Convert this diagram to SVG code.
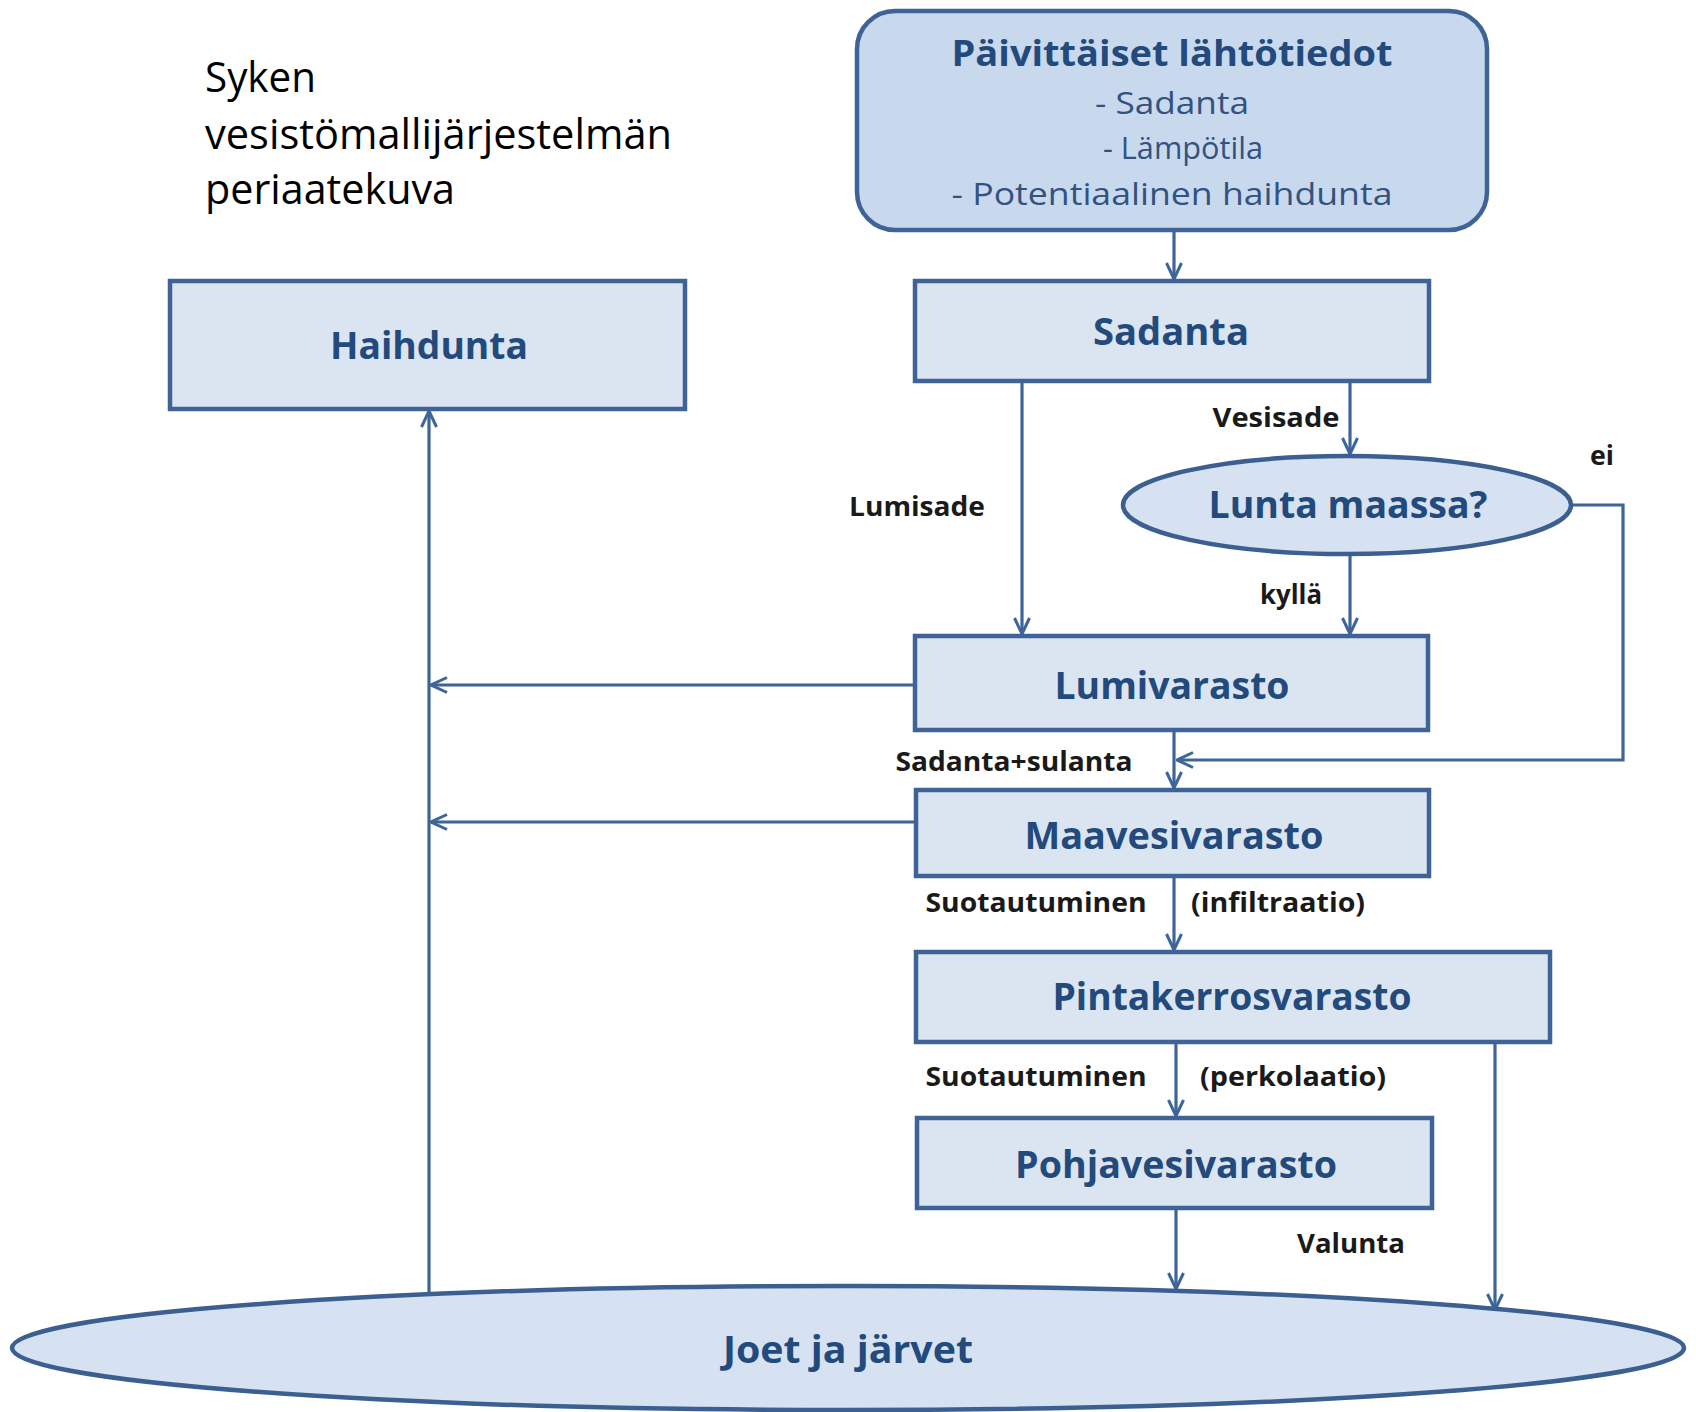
<svg xmlns="http://www.w3.org/2000/svg" width="1696" height="1412" viewBox="0 0 1696 1412">
<style>
.box{fill:#DBE5F1;stroke:#3F6396;stroke-width:4.5}
.top{fill:#C8D9EE;stroke:#3F6396;stroke-width:4.5}
.ell{fill:#D6E2F2;stroke:#3B5F91;stroke-width:4.5}
.t{font-family:"Open Sans","Liberation Sans",sans-serif;font-weight:bold;fill:#234A7C;text-anchor:middle}
.s{font-family:"Open Sans","Liberation Sans",sans-serif;fill:#33527F;text-anchor:middle}
.l{font-family:"Open Sans","Liberation Sans",sans-serif;font-weight:bold;fill:#1a1a1a;text-anchor:middle;font-size:26px}
.ttl{font-family:"Open Sans","Liberation Sans",sans-serif;fill:#000;font-size:42px}
.c{fill:none;stroke:#3E6598;stroke-width:3.2}
</style>
<defs>
<marker id="ah" viewBox="0 0 18 18" refX="17" refY="9" markerWidth="18" markerHeight="18" markerUnits="userSpaceOnUse" orient="auto">
<path d="M1,1.5 L17,9 L1,16.5" fill="none" stroke="#3E6598" stroke-width="3"/>
</marker>
</defs>
<rect width="1696" height="1412" fill="#fff"/>

<g id="title">
<text class="ttl" x="205" y="92" textLength="111" lengthAdjust="spacingAndGlyphs">Syken</text>
<text class="ttl" x="205" y="149" textLength="467" lengthAdjust="spacingAndGlyphs">vesistömallijärjestelmän</text>
<text class="ttl" x="205" y="204" textLength="250" lengthAdjust="spacingAndGlyphs">periaatekuva</text>
</g>

<g id="connectors">
<line class="c" x1="1174" y1="231" x2="1174" y2="279" marker-end="url(#ah)"/>
<line class="c" x1="1022" y1="382" x2="1022" y2="634" marker-end="url(#ah)"/>
<line class="c" x1="1350" y1="382" x2="1350" y2="454" marker-end="url(#ah)"/>
<line class="c" x1="1350" y1="555" x2="1350" y2="634" marker-end="url(#ah)"/>
<polyline class="c" points="1571,505 1623,505 1623,760 1177,760" marker-end="url(#ah)"/>
<line class="c" x1="1174" y1="731" x2="1174" y2="788" marker-end="url(#ah)"/>
<line class="c" x1="914" y1="685" x2="431" y2="685" marker-end="url(#ah)"/>
<line class="c" x1="915" y1="822" x2="431" y2="822" marker-end="url(#ah)"/>
<line class="c" x1="429" y1="1294" x2="429" y2="411" marker-end="url(#ah)"/>
<line class="c" x1="1174" y1="877" x2="1174" y2="950" marker-end="url(#ah)"/>
<line class="c" x1="1176" y1="1043" x2="1176" y2="1116" marker-end="url(#ah)"/>
<line class="c" x1="1176" y1="1209" x2="1176" y2="1289" marker-end="url(#ah)"/>
<line class="c" x1="1495" y1="1043" x2="1495" y2="1310" marker-end="url(#ah)"/>
<text class="l" x="917" y="516" textLength="136" lengthAdjust="spacingAndGlyphs">Lumisade</text>
<text class="l" x="1276" y="427" textLength="127" lengthAdjust="spacingAndGlyphs">Vesisade</text>
<text class="l" x="1602" y="465" textLength="24" lengthAdjust="spacingAndGlyphs">ei</text>
<text class="l" x="1291" y="604" textLength="62" lengthAdjust="spacingAndGlyphs">kyllä</text>
<text class="l" x="1014" y="771" textLength="237" lengthAdjust="spacingAndGlyphs">Sadanta+sulanta</text>
<text class="l" x="1036" y="912" textLength="221" lengthAdjust="spacingAndGlyphs">Suotautuminen</text>
<text class="l" x="1278" y="912" textLength="174" lengthAdjust="spacingAndGlyphs">(infiltraatio)</text>
<text class="l" x="1036" y="1086" textLength="221" lengthAdjust="spacingAndGlyphs">Suotautuminen</text>
<text class="l" x="1293" y="1086" textLength="186" lengthAdjust="spacingAndGlyphs">(perkolaatio)</text>
<text class="l" x="1351" y="1253" textLength="108" lengthAdjust="spacingAndGlyphs">Valunta</text>
</g>

<g id="lahtotiedot">
<rect class="top" x="857" y="11" width="630" height="219" rx="38"/>
<text class="t" x="1172" y="66" font-size="36" textLength="441" lengthAdjust="spacingAndGlyphs">Päivittäiset lähtötiedot</text>
<text class="s" x="1172" y="114" font-size="31" textLength="154" lengthAdjust="spacingAndGlyphs">- Sadanta</text>
<text class="s" x="1183" y="159" font-size="31" textLength="160" lengthAdjust="spacingAndGlyphs">- Lämpötila</text>
<text class="s" x="1172" y="205" font-size="31" textLength="441" lengthAdjust="spacingAndGlyphs">- Potentiaalinen haihdunta</text>
</g>

<g id="sadanta">
<rect class="box" x="915" y="281" width="514" height="100"/>
<text class="t" x="1171" y="345" font-size="38" textLength="156" lengthAdjust="spacingAndGlyphs">Sadanta</text>
</g>

<g id="haihdunta">
<rect class="box" x="170" y="281" width="515" height="128"/>
<text class="t" x="429" y="359" font-size="38" textLength="198" lengthAdjust="spacingAndGlyphs">Haihdunta</text>
</g>

<g id="lunta">
<ellipse class="ell" cx="1347" cy="505" rx="224" ry="49"/>
<text class="t" x="1348" y="518" font-size="38" textLength="279" lengthAdjust="spacingAndGlyphs">Lunta maassa?</text>
</g>

<g id="lumivarasto">
<rect class="box" x="915" y="636" width="513" height="94"/>
<text class="t" x="1172" y="699" font-size="38" textLength="235" lengthAdjust="spacingAndGlyphs">Lumivarasto</text>
</g>

<g id="maavesivarasto">
<rect class="box" x="916" y="790" width="513" height="86"/>
<text class="t" x="1174" y="849" font-size="38" textLength="299" lengthAdjust="spacingAndGlyphs">Maavesivarasto</text>
</g>

<g id="pintakerrosvarasto">
<rect class="box" x="916" y="952" width="634" height="90"/>
<text class="t" x="1232" y="1010" font-size="38" textLength="359" lengthAdjust="spacingAndGlyphs">Pintakerrosvarasto</text>
</g>

<g id="pohjavesivarasto">
<rect class="box" x="917" y="1118" width="515" height="90"/>
<text class="t" x="1176" y="1178" font-size="38" textLength="322" lengthAdjust="spacingAndGlyphs">Pohjavesivarasto</text>
</g>

<g id="joet">
<ellipse class="ell" cx="848" cy="1348" rx="836" ry="62"/>
<text class="t" x="848" y="1363" font-size="38" textLength="250" lengthAdjust="spacingAndGlyphs">Joet ja järvet</text>
</g>
</svg>
